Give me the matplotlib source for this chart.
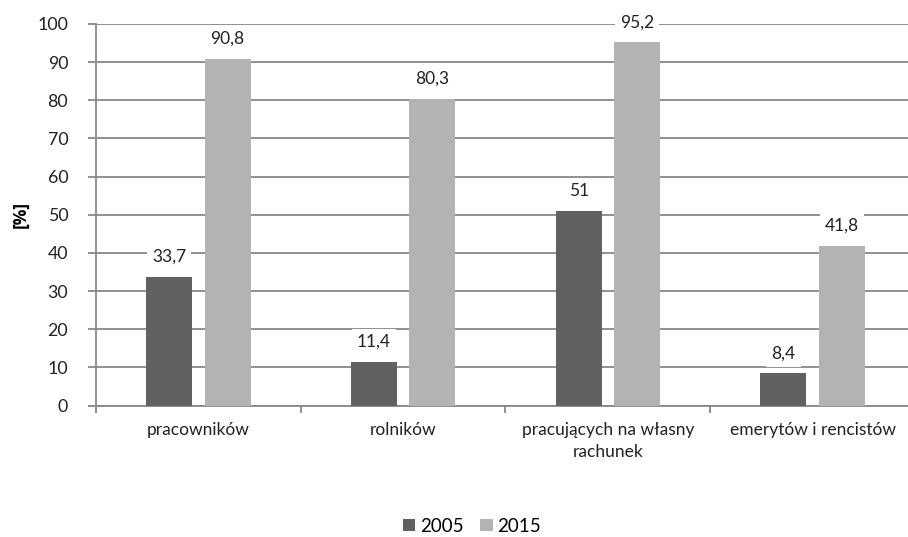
import numpy as np
import matplotlib.pyplot as plt

plt.rcParams['font.family'] = ['Lato', 'DejaVu Sans']

categories = ['pracowników', 'rolników', 'pracujących na własny\nrachunek', 'emerytów i rencistów']
years = ['2005', '2015']
v2005 = [33.7, 11.4, 51, 8.4]
v2015 = [90.8, 80.3, 95.2, 41.8]

c2005 = '#616161'
c2015 = '#b3b3b3'
grid_c = '#878787'

fig = plt.figure(figsize=(9.08, 5.37), dpi=100)
ax = fig.add_axes([96 / 908, 1 - 405.5 / 537, 819 / 908, 381.5 / 537])

x = np.arange(len(categories))
w = 0.224
off = 0.143

b1 = ax.bar(x - off, v2005, w, color=c2005, label=years[0], zorder=3)
b2 = ax.bar(x + off, v2015, w, color=c2015, label=years[1], zorder=3)

def fmt(v):
    s = ('%g' % v).replace('.', ',')
    return s

for bars, vals in ((b1, v2005), (b2, v2015)):
    for rect, v in zip(bars, vals):
        ax.annotate(fmt(v), (rect.get_x() + rect.get_width() / 2, v),
                    xytext=(0, 14.5), textcoords='offset points',
                    ha='center', va='center', fontsize=12.5, color='#222222',
                    zorder=4,
                    bbox=dict(boxstyle='square,pad=0.3', fc='white', ec='none'))

ax.set_xlim(-0.5, len(categories) - 0.5)
ax.set_ylim(0, 100)
ax.set_yticks(np.arange(0, 101, 10))
ax.yaxis.grid(True, color=grid_c, linewidth=1.3, zorder=0)
ax.set_axisbelow(True)

for s in ['top', 'right']:
    ax.spines[s].set_visible(False)
for s in ['left', 'bottom']:
    ax.spines[s].set_color(grid_c)
    ax.spines[s].set_linewidth(1.3)

# category boundaries carry the tick marks, names sit at the centres
ax.set_xticks(np.arange(len(categories) + 1) - 0.5)
ax.set_xticklabels([])
ax.set_xticks(x, minor=True)
ax.set_xticklabels(categories, minor=True, fontsize=12.5, color='#222222',
                   linespacing=1.45)
ax.tick_params(axis='x', which='minor', length=0, pad=12)
ax.tick_params(axis='x', which='major', length=5, color=grid_c, width=1.3)
ax.tick_params(axis='y', length=6, color=grid_c, width=1.3, pad=14,
               labelsize=12.8, labelcolor='#222222')

ax.set_ylabel('[%]', fontsize=12.5, fontweight='bold',
              family=['Open Sans', 'DejaVu Sans'])
ax.yaxis.set_label_coords(-66 / 819, 0.5)

fig.legend(handles=[b1, b2], labels=years, loc='center', ncol=2,
           bbox_to_anchor=(472 / 908, 1 - 526 / 537), frameon=False,
           fontsize=13.5, handlelength=0.65, handleheight=0.65,
           handletextpad=0.25, columnspacing=0.9)

fig.savefig('out.png', dpi=100)
